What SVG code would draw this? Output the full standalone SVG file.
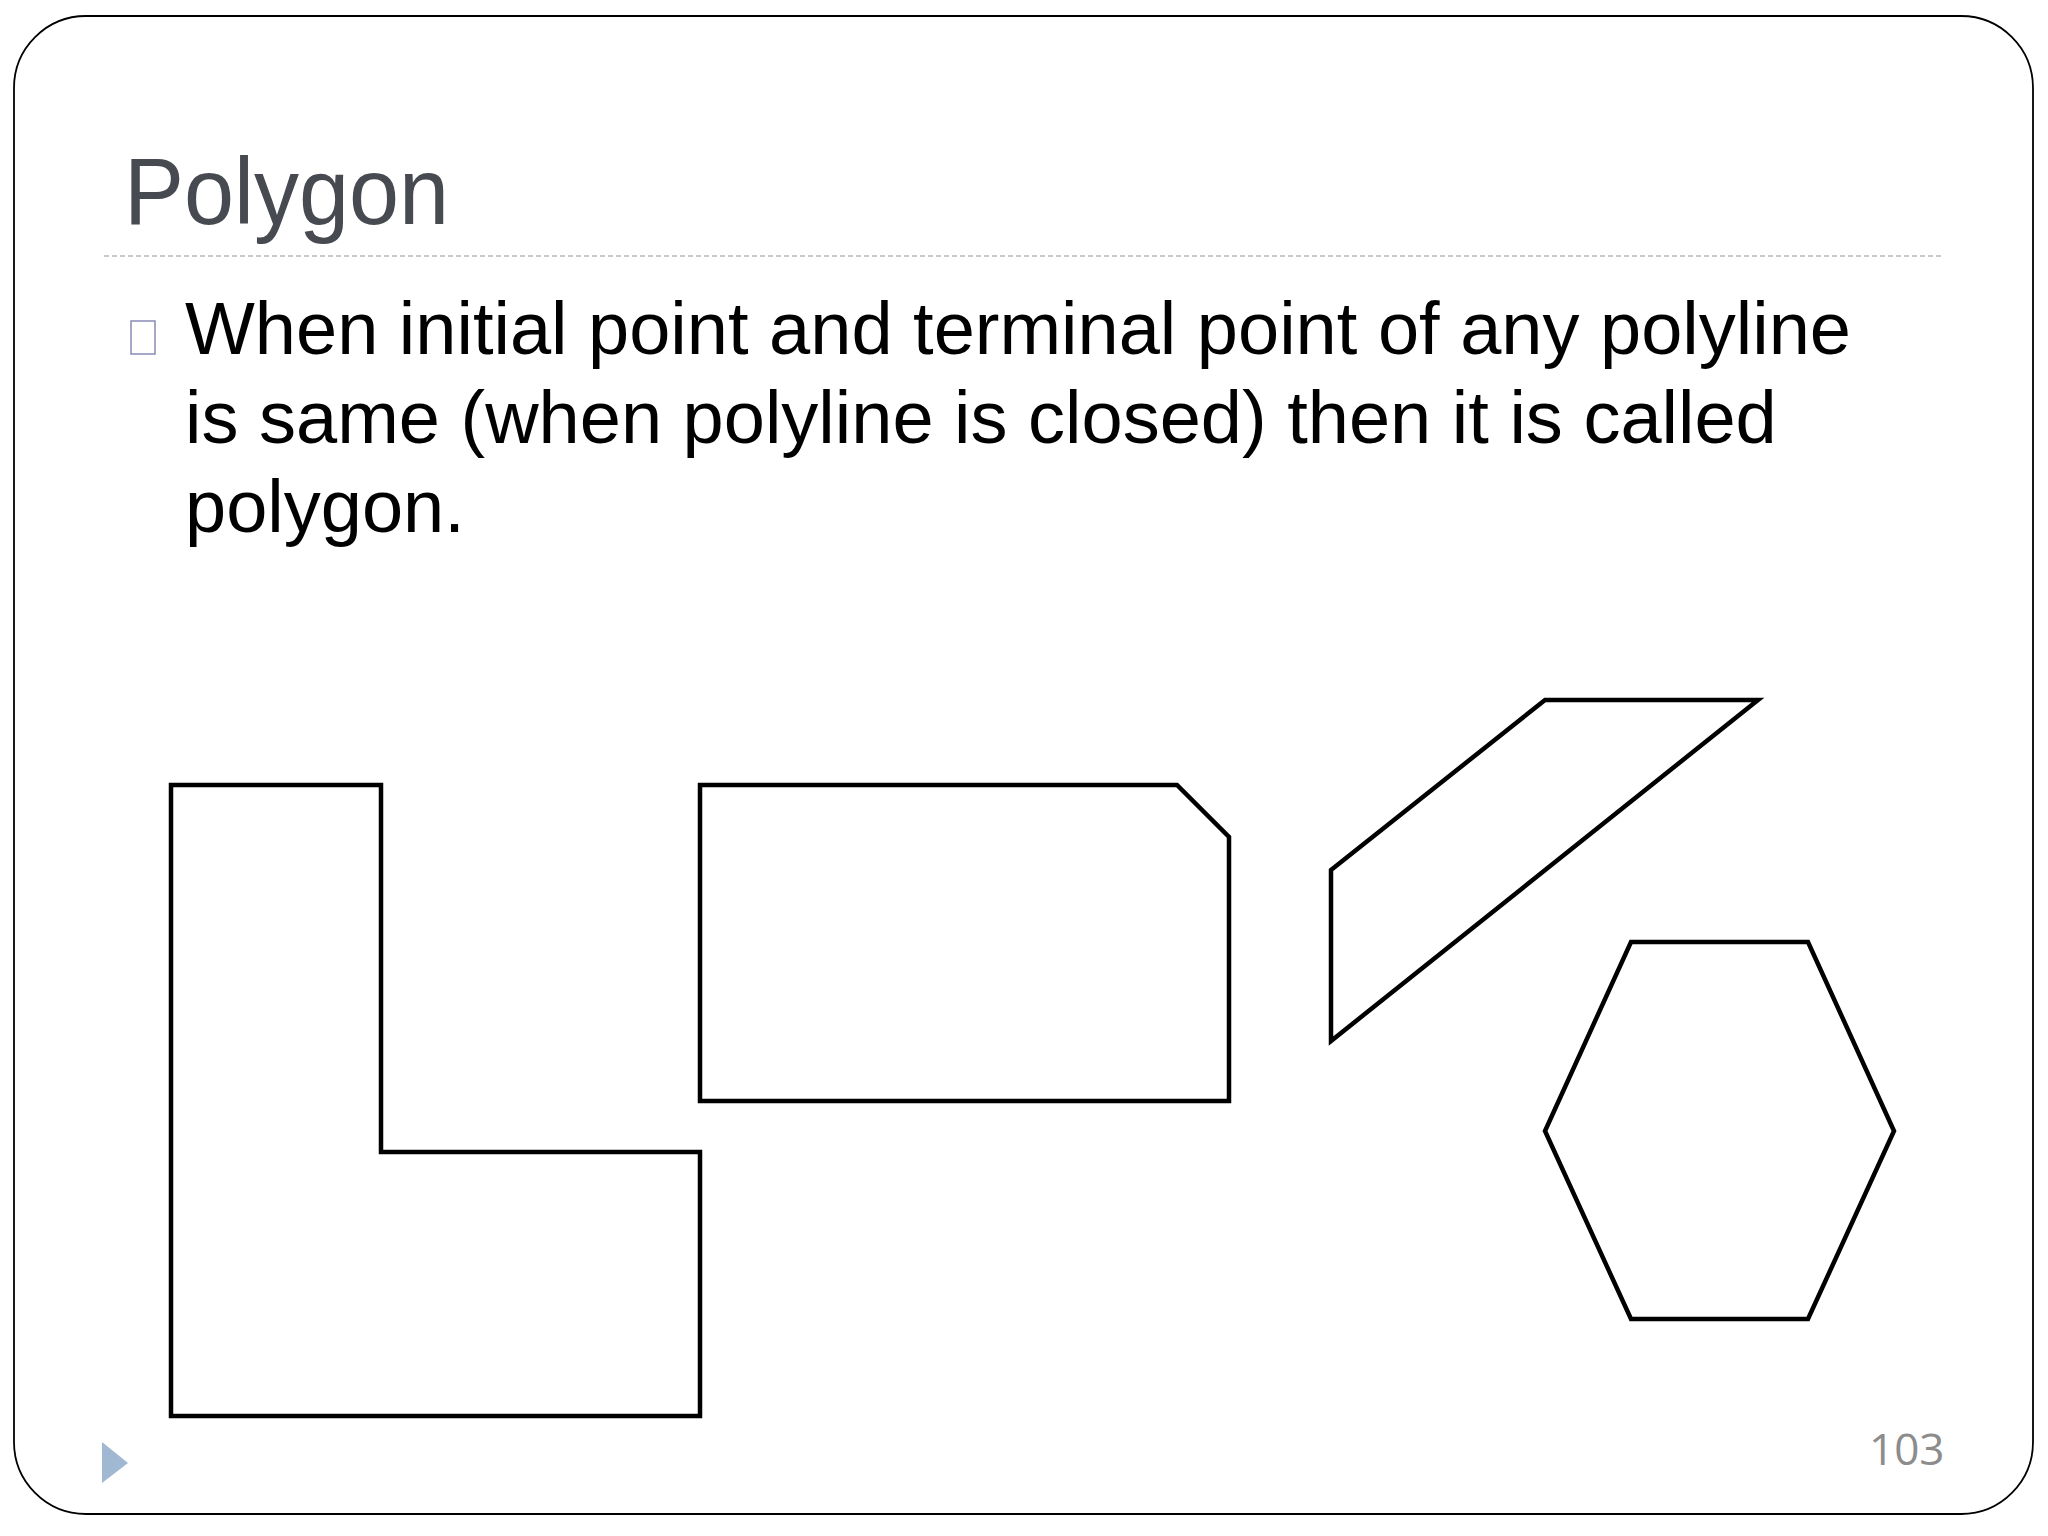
<svg xmlns="http://www.w3.org/2000/svg" width="2048" height="1536" viewBox="0 0 2048 1536">
<style>
.shape{fill:none;stroke:#000;stroke-width:4.5;stroke-linejoin:miter}
.body{font-family:"Liberation Sans",Arial,sans-serif;font-size:74px;fill:#000}
.title{font-family:"Liberation Sans",Arial,sans-serif;font-size:90px;fill:#484a52}
.num{font-family:"Open Sans","Liberation Sans",sans-serif;font-size:44px;fill:#8c8c8c}
</style>
<rect width="2048" height="1536" fill="#fff"/>
<rect id="frame" x="14" y="16" width="2019" height="1498" rx="72" ry="72" fill="none" stroke="#000" stroke-width="1.8"/>
<g id="title"><text class="title" x="124" y="224" transform="translate(0,224) scale(1,1.06) translate(0,-224)">Polygon</text></g>
<line x1="104" y1="256" x2="1943" y2="256" stroke="#b8b8b8" stroke-width="1.5" stroke-dasharray="5,3"/>
<g id="bullet">
<rect x="131" y="321" width="24" height="33" fill="none" stroke="#8a8ab8" stroke-width="1.5"/>
<text class="body" x="185" y="354">When initial point and terminal point of any polyline</text>
<text class="body" x="185" y="443">is same (when polyline is closed) then it is called</text>
<text class="body" x="185" y="532">polygon.</text>
</g>
<g id="shapes">
<polygon id="lshape" class="shape" points="171,785 381,785 381,1152 700,1152 700,1416 171,1416"/>
<polygon id="cutrect" class="shape" points="700,785 1177,785 1229,837 1229,1101 700,1101"/>
<polygon id="parallelogram" class="shape" points="1331,870 1545,700 1758,700 1331,1041"/>
<polygon id="hexagon" class="shape" points="1631,942 1808,942 1894,1131 1808,1319 1631,1319 1545,1131"/>
</g>
<polygon id="navarrow" points="102,1442 128,1463 102,1483" fill="#a0b8d2"/>
<text id="pagenum" class="num" x="1869" y="1465">103</text>
</svg>
